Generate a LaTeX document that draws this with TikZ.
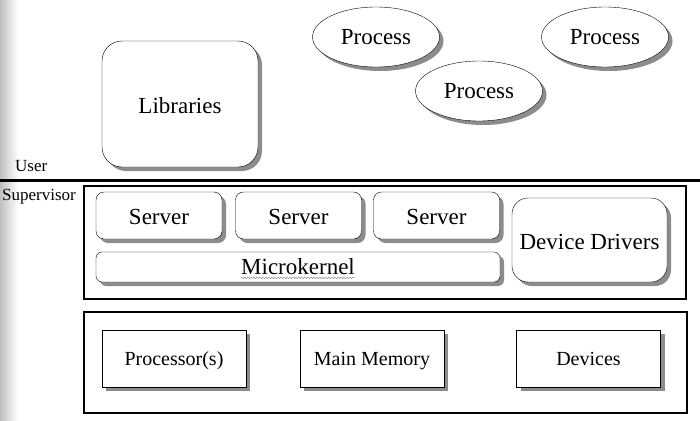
\documentclass[tikz,border=0pt]{standalone}
\usepackage{fontspec}
\setmainfont{Liberation Serif}
\usetikzlibrary{shapes.geometric,shadows,calc,decorations.pathmorphing}

\begin{document}
\begin{tikzpicture}[x=1pt,y=-1pt,every node/.append style={font=\rmfamily,
                    inner sep=0pt},
    shad/.style={drop shadow={shadow xshift=4pt,shadow yshift=-4pt,
                 opacity=1,fill=black!45}},
    proc/.style={ellipse,draw,thin,fill=white,shad,minimum width=127pt,
                 minimum height=60pt,font=\fontsize{23}{26}\selectfont},
    soft/.style={draw,thin,fill=white,shad,rounded corners=#1,
                 text height=18pt,text depth=0pt,
                 font=\fontsize{23}{26}\selectfont},
    soft/.default=8pt,
    hw/.style={draw,thin,fill=white,shad,minimum width=144pt,
               minimum height=57pt,text height=14pt,text depth=0pt,
               font=\fontsize{20}{24}\selectfont},
    layer/.style={draw,line width=1.6pt},
    mode/.style={anchor=base west,font=\fontsize{17}{20}\selectfont}]
    % scan edge
    \shade[left color=black!25,right color=white] (0,0) rectangle (18,420);
    \useasboundingbox (0,0) rectangle (700,420);

    % user space
    \node[soft=20pt,minimum width=156pt,minimum height=126pt] (lib) at (180,104) {Libraries};
    \node[proc] (p1) at (376,37) {Process};
    \node[proc] (p2) at (605,37) {Process};
    \node[proc] (p3) at (479,91) {Process};

    \node[mode] (user) at (15,171) {User};
    \draw[line width=3pt] (0,180) -- (700,180);
    \node[mode] (sup) at (2,200) {Supervisor};

    % kernel
    \node[layer,minimum width=602pt,minimum height=113pt] (kern) at (385,242.5) {};
    \node[soft,minimum width=126pt,minimum height=47pt] (s1) at (159,215.5) {Server};
    \node[soft,minimum width=126pt,minimum height=47pt] (s2) at (298.5,215.5) {Server};
    \node[soft,minimum width=126pt,minimum height=47pt] (s3) at (436.5,215.5) {Server};
    \node[soft=6pt,minimum width=404pt,minimum height=30pt] (mk) at (298,267) {};
    \node[font=\fontsize{23}{26}\selectfont] (mktxt) at (mk) {Microkernel};
    \draw[black!45,decorate,decoration={snake,amplitude=.8pt,segment length=3pt}]
        ($(mktxt.base west)+(0,3)$) -- ($(mktxt.base east)+(0,3)$);
    \node[soft=16pt,minimum width=155pt,minimum height=84pt] (dd) at (589.5,240) {Device Drivers};

    % hardware
    \node[layer,minimum width=603pt,minimum height=101pt] (hard) at (385.5,362.5) {};
    \node[hw] (cpu) at (174,358.5) {Processor(s)};
    \node[hw] (mem) at (372,358.5) {Main Memory};
    \node[hw] (dev) at (588.5,358.5) {Devices};
\end{tikzpicture}
\end{document}
